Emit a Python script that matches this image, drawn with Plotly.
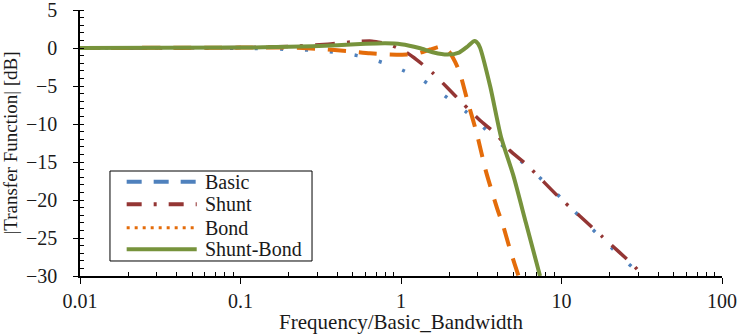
import plotly.graph_objects as go

# Basic (blue, dotted in plot)
basic_f = [0.01, 0.05, 0.1, 0.2, 0.31, 0.46, 0.62, 0.92, 1.33, 1.85, 2.58, 2.98, 4.0, 6.37, 9.37, 15, 22, 31.6]
basic_db = [0, -0.01, -0.04, -0.17, -0.35, -0.75, -1.3, -2.5, -4.1, -6.2, -8.5, -9.6, -12.3, -15.9, -19.2, -23.5, -26.9, -30]

# Shunt (dark red, dash-dot)
shunt_f = [0.01, 0.1, 0.2, 0.35, 0.53, 0.66, 0.8, 0.93, 1.1, 1.26, 1.56, 1.96, 2.43, 3.1, 3.91, 4.77, 6.1, 9.5, 13, 18.1, 28.7, 32]
shunt_db = [0, 0.05, 0.2, 0.5, 0.85, 0.9, 0.6, 0.1, -0.7, -1.6, -3.2, -5.3, -7.3, -9.5, -11.3, -13.5, -15.4, -19.5, -22.1, -24.9, -28.8, -30]

# Bond (orange, long dash in plot)
bond_f = [0.01, 0.1, 0.2, 0.3, 0.46, 0.64, 0.85, 1.09, 1.3, 1.52, 1.8, 2.0, 2.17, 2.33, 2.56, 2.97, 3.37, 3.97, 4.33, 4.73, 5.1, 5.4]
bond_db = [0, 0.05, 0.05, -0.1, -0.4, -0.7, -0.85, -0.87, -0.65, -0.2, 0.2, -0.5, -1.8, -3.3, -6.5, -11.3, -16.1, -21.1, -23.4, -26.2, -28.4, -30]

# Shunt-Bond (green, solid)
sb_f = [0.01, 0.1, 0.2, 0.4, 0.6, 0.8, 1.0, 1.3, 1.6, 1.95, 2.3, 2.6, 2.85, 2.95, 3.1, 3.6, 4.2, 5.0, 6.0, 7.35]
sb_db = [0, 0.05, 0.15, 0.35, 0.55, 0.62, 0.5, 0.0, -0.6, -0.87, -0.6, 0.2, 0.9, 0.8, 0.1, -5.1, -11.7, -16.7, -23.0, -30]

x_ticks = [0.01, 0.1, 1, 10, 100]
x_tick_labels = ["0.01", "0.1", "1", "10", "100"]
legend_names = ["Basic", "Shunt", "Bond", "Shunt-Bond"]

BLUE = "#4F81BD"
RED = "#943634"
ORANGE = "#E46C0A"
GREEN = "#77933C"
FONT = "Liberation Serif"
TXT = "#1a1a1a"

fig = go.Figure()
fig.add_trace(go.Scatter(x=basic_f, y=basic_db, mode="lines", name="Basic", showlegend=False,
                         line=dict(color=BLUE, width=3.5, dash="3px,22px", shape="spline", smoothing=0.6)))
fig.add_trace(go.Scatter(x=shunt_f, y=shunt_db, mode="lines", name="Shunt", showlegend=False,
                         line=dict(color=RED, width=3.5, dash="20px,12px,3px,12px", shape="spline", smoothing=0.6)))
fig.add_trace(go.Scatter(x=bond_f, y=bond_db, mode="lines", name="Bond", showlegend=False,
                         line=dict(color=ORANGE, width=4, dash="18px,13px", shape="spline", smoothing=0.6)))
fig.add_trace(go.Scatter(x=sb_f, y=sb_db, mode="lines", name="Shunt-Bond", showlegend=False,
                         line=dict(color=GREEN, width=4, shape="spline", smoothing=0.6)))

# Legend box (styles as drawn in the reference legend)
legend_styles = [
    dict(color=BLUE, width=4, dash="15px,12px"),
    dict(color=RED, width=4, dash="15px,12px,3px,12px"),
    dict(color=ORANGE, width=3, dash="3px,5px"),
    dict(color=GREEN, width=4),
]
box_x0, box_x1, box_y0, box_y1 = 0.0467, 0.3614, 0.0564, 0.3947
row_y = [0.3545, 0.2695, 0.1816, 0.1004]
fig.add_shape(type="rect", xref="paper", yref="paper", x0=box_x0, x1=box_x1, y0=box_y0, y1=box_y1,
              line=dict(color="black", width=1), fillcolor="white", layer="above")
for name, st, yy in zip(legend_names, legend_styles, row_y):
    fig.add_shape(type="line", xref="paper", yref="paper", x0=0.0727, x1=0.1818, y0=yy, y1=yy,
                  line=st, layer="above")
    fig.add_annotation(xref="paper", yref="paper", x=0.1911, y=yy, xanchor="left", yanchor="middle",
                       text=name, showarrow=False, font=dict(family=FONT, size=20, color=TXT))

fig.update_layout(
    width=742, height=334,
    margin=dict(l=80, r=20, t=10, b=58, autoexpand=False),
    plot_bgcolor="white", paper_bgcolor="white",
    font=dict(family=FONT, size=20, color=TXT),
    showlegend=False,
)
fig.update_xaxes(
    type="log", range=[-2, 2], showgrid=False, zeroline=False, automargin=False,
    showline=True, linecolor="black", linewidth=1.5,
    tickmode="array", tickvals=x_ticks, ticktext=x_tick_labels,
    ticks="outside", ticklen=6, tickwidth=1.2, tickcolor="black",
    tickfont=dict(family=FONT, size=20, color=TXT), ticklabelstandoff=0,
    ticklabeloverflow="allow",
    minor=dict(ticks="inside", ticklen=4, tickcolor="black", tickwidth=1,
               tickvals=[k * 10**e for e in range(-2, 2) for k in range(2, 10)], showgrid=False),
    title=dict(text="Frequency/Basic_Bandwidth", standoff=1, font=dict(family=FONT, size=21, color=TXT)),
)
fig.update_yaxes(
    range=[-30, 5], showgrid=False, zeroline=False, automargin=False,
    showline=True, linecolor="black", linewidth=1.5,
    tick0=0, dtick=5, ticks="outside", ticklen=5, tickwidth=1.2, tickcolor="black",
    tickfont=dict(family=FONT, size=20, color=TXT), ticklabelstandoff=12,
    ticklabeloverflow="allow",
    minor=dict(ticks="inside", ticklen=4, tickcolor="black", tickwidth=1, dtick=1, showgrid=False),
    title=dict(text="|Transfer Function| [dB]", standoff=3, font=dict(family=FONT, size=19, color=TXT)),
)

fig.write_html("out.html", config={"displayModeBar": False},
               post_script="document.body.style.margin='0';document.body.style.overflow='hidden';")
